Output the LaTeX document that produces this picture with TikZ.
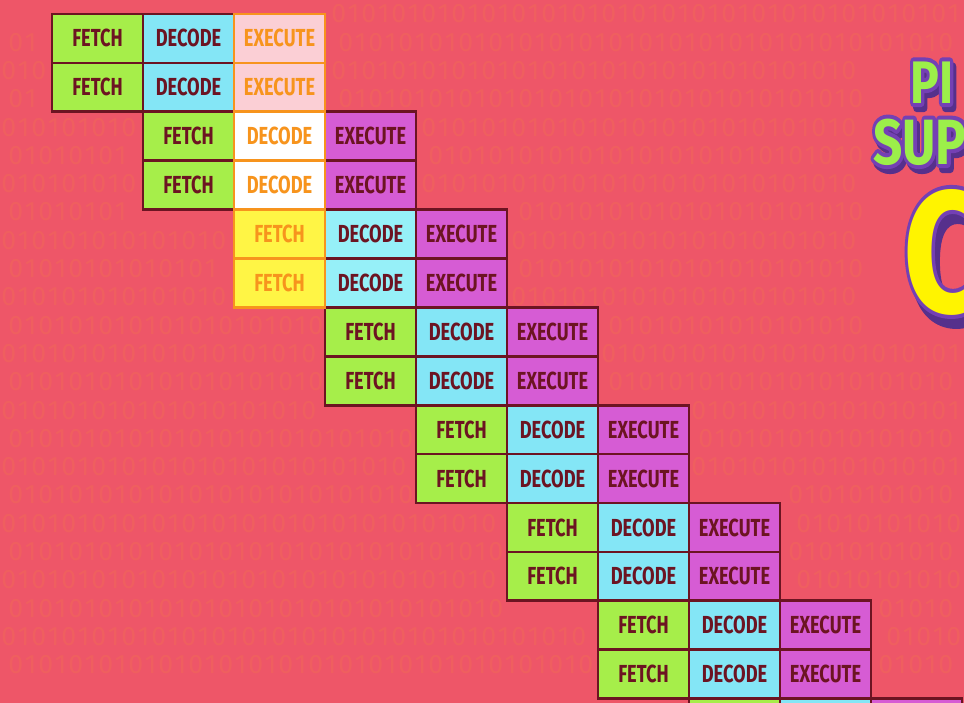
\documentclass[tikz,border=0pt]{standalone}
\usepackage{fontspec}
\setmainfont{Fira Sans}
\usepackage{xcolor}
\definecolor{bgred}{HTML}{EE5668}
\definecolor{bitorange}{HTML}{F7843C}
\definecolor{fetchgreen}{HTML}{A6EE4A}
\definecolor{decodeblue}{HTML}{84E6F6}
\definecolor{decodelight}{HTML}{96F0F8}
\definecolor{execpurple}{HTML}{D65CD4}
\definecolor{maroon}{HTML}{6C1422}
\definecolor{hlorange}{HTML}{F7941D}
\definecolor{hlpink}{HTML}{FBCFD5}
\definecolor{hlyellow}{HTML}{FFF545}
\definecolor{titlepurple}{HTML}{7440B4}
\definecolor{titleshadow}{HTML}{56308C}
\definecolor{titlegreen}{HTML}{9CEF4A}
\definecolor{titleyellow}{HTML}{FFF400}
\usepackage{graphicx}
\usepackage{tikz}

\newcommand{\stage}[1]{\scalebox{0.74}[1]{#1}}
\newcommand{\bitrow}[1]{\foreach \i in {1,...,#1}{\makebox[11.25pt]{\ifodd\i\relax 0\else 1\fi}}}
% fill colour, outline colour, text
\newcommand{\outlined}[3]{\scalebox{0.8}[1]{\rlap{\color{#2}\special{pdf:literal 2 Tr 6 w 1 j}#3\special{pdf:literal 0 Tr}}\color{#1}#3}}

\tikzset{
  cell/.style={draw=maroon, line width=2pt, minimum width=68.25pt, minimum height=36.7pt,
    inner sep=0pt, outer sep=0pt, text=maroon, font=\bfseries\fontsize{18.5}{18.5}\selectfont},
  fetchcell/.style={cell, fill=fetchgreen},
  decodecell/.style={cell, fill=decodeblue},
  execcell/.style={cell, fill=execpurple},
  hlcell/.style={cell, draw=hlorange, text=hlorange},
  bits/.style={anchor=west, inner sep=0pt, text=bitorange, opacity=0.2,
    font=\fontsize{20}{20}\selectfont},
  title/.style={anchor=base west, inner sep=0pt, font=\bfseries},
}

\begin{document}
\begin{tikzpicture}[x=0.75pt, y=-0.75pt]
    \clip (0, 0) rectangle (964, 703);
    \fill[bgred] (0, 0) rectangle (964, 703);

    % binary background, left and right of the staircase
    \foreach \r in {0,...,23} {
        \pgfmathsetmacro{\y}{14+28.3*\r}
        \pgfmathsetmacro{\bx}{1+7*mod(\r,2)}
        \pgfmathtruncatemacro{\gtop}{floor((\y-24)/97.8)}
        \pgfmathtruncatemacro{\gbot}{floor((\y-4)/97.8)}
        \pgfmathtruncatemacro{\nl}{max(0,floor((50+91*\gtop-\bx)/15))}
        \pgfmathsetmacro{\rx}{\bx+15*ceil((327+91*\gbot-\bx)/15)}
        \pgfmathsetmacro{\rend}{(\y>50 && \y<345) ? 866 : 962}
        \pgfmathtruncatemacro{\nr}{max(0,floor((\rend-\rx)/15))}
        \ifnum\nl>0 \node (bitsl-\r) [bits] at (\bx, \y) {\bitrow{\nl}}; \fi
        \ifnum\nr>0 \node (bitsr-\r) [bits] at (\rx, \y) {\bitrow{\nr}}; \fi
    }

    % title, cut by the right edge
    \node (pi-shadow) [title, font=\bfseries\fontsize{45}{45}\selectfont] at (913, 108) {\outlined{titleshadow}{titleshadow}{PI}};
    \node (pi) [title, font=\bfseries\fontsize{45}{45}\selectfont] at (910, 103) {\outlined{titlegreen}{titlepurple}{PI}};
    \node (sup-shadow) [title, font=\bfseries\fontsize{48}{48}\selectfont] at (876, 169) {\outlined{titleshadow}{titleshadow}{SUP}};
    \node (sup) [title, font=\bfseries\fontsize{48}{48}\selectfont] at (873, 164) {\outlined{titlegreen}{titlepurple}{SUP}};
    \node (c-shadow) [title, font=\bfseries\fontsize{130}{130}\selectfont] at (908, 322) {\outlined{titleshadow}{titleshadow}{C}};
    \node (c) [title, font=\bfseries\fontsize{130}{130}\selectfont] at (903, 312) {\outlined{titleyellow}{titlepurple}{C}};

    % first three instructions
    \foreach \k in {0,1} {
        \node (f-0-\k) [fetchcell] at (97.5, {38.45+48.9*\k}) {\stage{FETCH}};
        \node (d-0-\k) [decodecell] at (188.5, {38.45+48.9*\k}) {\stage{DECODE}};
        \node (f-1-\k) [fetchcell] at (188.5, {38.45+48.9*(2+\k)}) {\stage{FETCH}};
        \node (e-1-\k) [execcell] at (370.5, {38.45+48.9*(2+\k)}) {\stage{EXECUTE}};
        \node (d-2-\k) [decodecell, fill=decodelight] at (370.5, {38.45+48.9*(4+\k)}) {\stage{DECODE}};
        \node (e-2-\k) [execcell] at (461.5, {38.45+48.9*(4+\k)}) {\stage{EXECUTE}};
    }

    % the rest of the pipeline
    \foreach \g in {3,...,7}
        \foreach \k in {0,1} {
            \node (f-\g-\k) [fetchcell] at ({97.5+91*\g}, {38.45+48.9*(2*\g+\k)}) {\stage{FETCH}};
            \node (d-\g-\k) [decodecell] at ({97.5+91*(\g+1)}, {38.45+48.9*(2*\g+\k)}) {\stage{DECODE}};
            \node (e-\g-\k) [execcell] at ({97.5+91*(\g+2)}, {38.45+48.9*(2*\g+\k)}) {\stage{EXECUTE}};
        }

    % highlighted column
    \foreach \k in {0,1} {
        \node (e-0-\k) [hlcell, fill=hlpink] at (279.5, {38.45+48.9*\k}) {\stage{EXECUTE}};
        \node (d-1-\k) [hlcell, fill=white] at (279.5, {38.45+48.9*(2+\k)}) {\stage{DECODE}};
        \node (f-2-\k) [hlcell, fill=hlyellow] at (279.5, {38.45+48.9*(4+\k)}) {\stage{FETCH}};
    }
\end{tikzpicture}
\end{document}
